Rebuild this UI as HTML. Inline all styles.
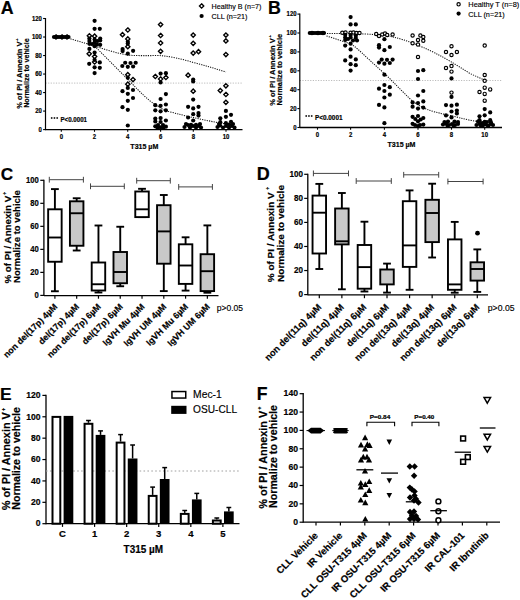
<!DOCTYPE html><html><head><meta charset="utf-8"><style>html,body{margin:0;padding:0;background:#fff;}svg{display:block;}</style></head><body><svg width="520" height="600" viewBox="0 0 520 600" font-family='"Liberation Sans", sans-serif'>
<rect width="520" height="600" fill="#fff"/>
<text font-size="17.8" font-weight="bold" text-anchor="start" fill="#000" transform="translate(0.80 13.65)" stroke="#000" stroke-width="0.2" >A</text>
<line x1="45.50" y1="83.10" x2="243.00" y2="83.10" stroke="#b4b4b4" stroke-width="0.9" stroke-linecap="butt" stroke-dasharray="1.2 1.4"/>
<line x1="45.50" y1="18.00" x2="45.50" y2="130.20" stroke="#000" stroke-width="1.2" stroke-linecap="butt"/>
<line x1="43.10" y1="18.50" x2="45.50" y2="18.50" stroke="#000" stroke-width="1.1" stroke-linecap="butt"/>
<text font-size="6.7" font-weight="bold" text-anchor="end" fill="#000" transform="translate(41.90 20.85) scale(0.8937 1)" stroke="#000" stroke-width="0.2" >120</text>
<line x1="43.10" y1="37.02" x2="45.50" y2="37.02" stroke="#000" stroke-width="1.1" stroke-linecap="butt"/>
<text font-size="6.7" font-weight="bold" text-anchor="end" fill="#000" transform="translate(41.90 39.37) scale(0.8937 1)" stroke="#000" stroke-width="0.2" >100</text>
<line x1="43.10" y1="55.53" x2="45.50" y2="55.53" stroke="#000" stroke-width="1.1" stroke-linecap="butt"/>
<text font-size="6.7" font-weight="bold" text-anchor="end" fill="#000" transform="translate(41.90 57.88) scale(0.8937 1)" stroke="#000" stroke-width="0.2" >80</text>
<line x1="43.10" y1="74.05" x2="45.50" y2="74.05" stroke="#000" stroke-width="1.1" stroke-linecap="butt"/>
<text font-size="6.7" font-weight="bold" text-anchor="end" fill="#000" transform="translate(41.90 76.40) scale(0.8937 1)" stroke="#000" stroke-width="0.2" >60</text>
<line x1="43.10" y1="92.57" x2="45.50" y2="92.57" stroke="#000" stroke-width="1.1" stroke-linecap="butt"/>
<text font-size="6.7" font-weight="bold" text-anchor="end" fill="#000" transform="translate(41.90 94.92) scale(0.8937 1)" stroke="#000" stroke-width="0.2" >40</text>
<line x1="43.10" y1="111.08" x2="45.50" y2="111.08" stroke="#000" stroke-width="1.1" stroke-linecap="butt"/>
<text font-size="6.7" font-weight="bold" text-anchor="end" fill="#000" transform="translate(41.90 113.43) scale(0.8937 1)" stroke="#000" stroke-width="0.2" >20</text>
<line x1="43.10" y1="129.60" x2="45.50" y2="129.60" stroke="#000" stroke-width="1.1" stroke-linecap="butt"/>
<text font-size="6.7" font-weight="bold" text-anchor="end" fill="#000" transform="translate(41.90 131.95) scale(0.8937 1)" stroke="#000" stroke-width="0.2" >0</text>
<line x1="45.50" y1="129.60" x2="242.50" y2="129.60" stroke="#000" stroke-width="1.3" stroke-linecap="butt"/>
<line x1="61.30" y1="129.60" x2="61.30" y2="131.80" stroke="#000" stroke-width="1.1" stroke-linecap="butt"/>
<text font-size="6.7" font-weight="bold" text-anchor="middle" fill="#000" transform="translate(61.30 138.60) scale(0.8937 1)" stroke="#000" stroke-width="0.2" >0</text>
<line x1="94.50" y1="129.60" x2="94.50" y2="131.80" stroke="#000" stroke-width="1.1" stroke-linecap="butt"/>
<text font-size="6.7" font-weight="bold" text-anchor="middle" fill="#000" transform="translate(94.50 138.60) scale(0.8937 1)" stroke="#000" stroke-width="0.2" >2</text>
<line x1="127.70" y1="129.60" x2="127.70" y2="131.80" stroke="#000" stroke-width="1.1" stroke-linecap="butt"/>
<text font-size="6.7" font-weight="bold" text-anchor="middle" fill="#000" transform="translate(127.70 138.60) scale(0.8937 1)" stroke="#000" stroke-width="0.2" >4</text>
<line x1="160.60" y1="129.60" x2="160.60" y2="131.80" stroke="#000" stroke-width="1.1" stroke-linecap="butt"/>
<text font-size="6.7" font-weight="bold" text-anchor="middle" fill="#000" transform="translate(160.60 138.60) scale(0.8937 1)" stroke="#000" stroke-width="0.2" >6</text>
<line x1="193.30" y1="129.60" x2="193.30" y2="131.80" stroke="#000" stroke-width="1.1" stroke-linecap="butt"/>
<text font-size="6.7" font-weight="bold" text-anchor="middle" fill="#000" transform="translate(193.30 138.60) scale(0.8937 1)" stroke="#000" stroke-width="0.2" >8</text>
<line x1="226.00" y1="129.60" x2="226.00" y2="131.80" stroke="#000" stroke-width="1.1" stroke-linecap="butt"/>
<text font-size="6.7" font-weight="bold" text-anchor="middle" fill="#000" transform="translate(226.00 138.60) scale(0.8937 1)" stroke="#000" stroke-width="0.2" >10</text>
<text font-size="7.3" font-weight="bold" text-anchor="middle" fill="#000" transform="translate(21.90 75.10) rotate(-90) scale(1.0214 1)" stroke="#000" stroke-width="0.2" >% of PI / Annexin V</text>
<text font-size="7.3" font-weight="bold" text-anchor="middle" fill="#000" transform="translate(28.80 73.00) rotate(-90) scale(0.9888 1)" stroke="#000" stroke-width="0.2" >Normalize to vehicle</text>
<text font-size="4.2" font-weight="bold" text-anchor="middle" fill="#000" transform="translate(17.90 39.70) rotate(-90)" stroke="#000" stroke-width="0.2" >+</text>
<circle cx="51.70" cy="118.00" r="0.95" fill="#222"/>
<circle cx="54.45" cy="118.00" r="0.95" fill="#222"/>
<circle cx="57.20" cy="118.00" r="0.95" fill="#222"/>
<text font-size="7.0" font-weight="bold" text-anchor="start" fill="#000" transform="translate(60.50 121.70) scale(0.8818 1)" stroke="#000" stroke-width="0.2" >P&lt;0.0001</text>
<text font-size="7.4" font-weight="bold" text-anchor="middle" fill="#000" transform="translate(144.30 149.20) scale(0.9540 1)" stroke="#000" stroke-width="0.2" >T315 µM</text>
<path d="M70.4 38.8 L94.6 46 C105 49.5 118 53.5 127 55 C137 56 148 55.5 160 55.6 C170 56.3 182 59 193 62.4 C205 65.4 215 68.6 226 72" fill="none" stroke="#111" stroke-width="1.05" stroke-dasharray="1.2 1.15"/>
<path d="M94.6 46 L130 81.6 C140 92 148 100 154 103.8 C160 108 164 110 168 111.3 C178 114 186 116 193.5 117.6 L219 123 L226 124" fill="none" stroke="#111" stroke-width="1.05" stroke-dasharray="1.2 1.15"/>
<path d="M89.40 33.65L91.55 35.80L89.40 37.95L87.25 35.80Z" fill="#fff" stroke="#000" stroke-width="1.35"/>
<path d="M94.60 34.05L96.75 36.20L94.60 38.35L92.45 36.20Z" fill="#fff" stroke="#000" stroke-width="1.35"/>
<path d="M89.20 51.65L91.35 53.80L89.20 55.95L87.05 53.80Z" fill="#fff" stroke="#000" stroke-width="1.35"/>
<path d="M94.60 54.35L96.75 56.50L94.60 58.65L92.45 56.50Z" fill="#fff" stroke="#000" stroke-width="1.35"/>
<path d="M94.60 59.85L96.75 62.00L94.60 64.15L92.45 62.00Z" fill="#fff" stroke="#000" stroke-width="1.35"/>
<path d="M127.80 27.85L129.95 30.00L127.80 32.15L125.65 30.00Z" fill="#fff" stroke="#000" stroke-width="1.35"/>
<path d="M122.50 32.55L124.65 34.70L122.50 36.85L120.35 34.70Z" fill="#fff" stroke="#000" stroke-width="1.35"/>
<path d="M127.80 36.75L129.95 38.90L127.80 41.05L125.65 38.90Z" fill="#fff" stroke="#000" stroke-width="1.35"/>
<path d="M127.80 44.55L129.95 46.70L127.80 48.85L125.65 46.70Z" fill="#fff" stroke="#000" stroke-width="1.35"/>
<path d="M127.80 72.55L129.95 74.70L127.80 76.85L125.65 74.70Z" fill="#fff" stroke="#000" stroke-width="1.35"/>
<path d="M133.00 77.45L135.15 79.60L133.00 81.75L130.85 79.60Z" fill="#fff" stroke="#000" stroke-width="1.35"/>
<path d="M127.80 82.05L129.95 84.20L127.80 86.35L125.65 84.20Z" fill="#fff" stroke="#000" stroke-width="1.35"/>
<path d="M160.60 22.45L162.75 24.60L160.60 26.75L158.45 24.60Z" fill="#fff" stroke="#000" stroke-width="1.35"/>
<path d="M160.60 33.35L162.75 35.50L160.60 37.65L158.45 35.50Z" fill="#fff" stroke="#000" stroke-width="1.35"/>
<path d="M160.60 40.85L162.75 43.00L160.60 45.15L158.45 43.00Z" fill="#fff" stroke="#000" stroke-width="1.35"/>
<path d="M160.60 49.15L162.75 51.30L160.60 53.45L158.45 51.30Z" fill="#fff" stroke="#000" stroke-width="1.35"/>
<path d="M155.30 74.35L157.45 76.50L155.30 78.65L153.15 76.50Z" fill="#fff" stroke="#000" stroke-width="1.35"/>
<path d="M160.60 76.85L162.75 79.00L160.60 81.15L158.45 79.00Z" fill="#fff" stroke="#000" stroke-width="1.35"/>
<path d="M165.90 75.35L168.05 77.50L165.90 79.65L163.75 77.50Z" fill="#fff" stroke="#000" stroke-width="1.35"/>
<path d="M193.20 32.95L195.35 35.10L193.20 37.25L191.05 35.10Z" fill="#fff" stroke="#000" stroke-width="1.35"/>
<path d="M193.20 41.15L195.35 43.30L193.20 45.45L191.05 43.30Z" fill="#fff" stroke="#000" stroke-width="1.35"/>
<path d="M193.20 50.95L195.35 53.10L193.20 55.25L191.05 53.10Z" fill="#fff" stroke="#000" stroke-width="1.35"/>
<path d="M198.50 49.55L200.65 51.70L198.50 53.85L196.35 51.70Z" fill="#fff" stroke="#000" stroke-width="1.35"/>
<path d="M188.10 73.05L190.25 75.20L188.10 77.35L185.95 75.20Z" fill="#fff" stroke="#000" stroke-width="1.35"/>
<path d="M193.20 89.05L195.35 91.20L193.20 93.35L191.05 91.20Z" fill="#fff" stroke="#000" stroke-width="1.35"/>
<path d="M225.90 32.95L228.05 35.10L225.90 37.25L223.75 35.10Z" fill="#fff" stroke="#000" stroke-width="1.35"/>
<path d="M225.90 38.75L228.05 40.90L225.90 43.05L223.75 40.90Z" fill="#fff" stroke="#000" stroke-width="1.35"/>
<path d="M225.90 52.45L228.05 54.60L225.90 56.75L223.75 54.60Z" fill="#fff" stroke="#000" stroke-width="1.35"/>
<path d="M225.90 83.65L228.05 85.80L225.90 87.95L223.75 85.80Z" fill="#fff" stroke="#000" stroke-width="1.35"/>
<path d="M220.30 88.45L222.45 90.60L220.30 92.75L218.15 90.60Z" fill="#fff" stroke="#000" stroke-width="1.35"/>
<path d="M225.90 92.35L228.05 94.50L225.90 96.65L223.75 94.50Z" fill="#fff" stroke="#000" stroke-width="1.35"/>
<path d="M225.90 100.15L228.05 102.30L225.90 104.45L223.75 102.30Z" fill="#fff" stroke="#000" stroke-width="1.35"/>
<path d="M56.00 34.85L58.15 37.00L56.00 39.15L53.85 37.00Z" fill="#fff" stroke="#000" stroke-width="1.35"/>
<path d="M62.00 34.85L64.15 37.00L62.00 39.15L59.85 37.00Z" fill="#fff" stroke="#000" stroke-width="1.35"/>
<path d="M67.00 34.85L69.15 37.00L67.00 39.15L64.85 37.00Z" fill="#fff" stroke="#000" stroke-width="1.35"/>
<circle cx="54.00" cy="37.00" r="2.1" fill="#000"/>
<circle cx="56.00" cy="37.00" r="2.1" fill="#000"/>
<circle cx="58.00" cy="37.00" r="2.1" fill="#000"/>
<circle cx="60.00" cy="37.00" r="2.1" fill="#000"/>
<circle cx="62.00" cy="37.00" r="2.1" fill="#000"/>
<circle cx="64.00" cy="37.00" r="2.1" fill="#000"/>
<circle cx="66.00" cy="37.00" r="2.1" fill="#000"/>
<circle cx="68.50" cy="37.00" r="2.1" fill="#000"/>
<circle cx="94.60" cy="20.80" r="2.1" fill="#000"/>
<circle cx="94.60" cy="28.80" r="2.1" fill="#000"/>
<circle cx="99.80" cy="28.80" r="2.1" fill="#000"/>
<circle cx="89.40" cy="38.50" r="2.1" fill="#000"/>
<circle cx="89.40" cy="41.10" r="2.1" fill="#000"/>
<circle cx="89.40" cy="43.80" r="2.1" fill="#000"/>
<circle cx="94.60" cy="39.50" r="2.1" fill="#000"/>
<circle cx="100.20" cy="38.50" r="2.1" fill="#000"/>
<circle cx="100.20" cy="40.50" r="2.1" fill="#000"/>
<circle cx="97.50" cy="41.00" r="2.1" fill="#000"/>
<circle cx="94.60" cy="42.50" r="2.1" fill="#000"/>
<circle cx="100.20" cy="44.80" r="2.1" fill="#000"/>
<circle cx="94.60" cy="46.20" r="2.1" fill="#000"/>
<circle cx="92.00" cy="44.00" r="2.1" fill="#000"/>
<circle cx="97.00" cy="44.50" r="2.1" fill="#000"/>
<circle cx="89.40" cy="48.90" r="2.1" fill="#000"/>
<circle cx="94.60" cy="52.60" r="2.1" fill="#000"/>
<circle cx="94.60" cy="59.80" r="2.1" fill="#000"/>
<circle cx="89.20" cy="63.80" r="2.1" fill="#000"/>
<circle cx="99.80" cy="62.40" r="2.1" fill="#000"/>
<circle cx="94.60" cy="67.30" r="2.1" fill="#000"/>
<circle cx="99.80" cy="67.80" r="2.1" fill="#000"/>
<circle cx="94.60" cy="73.10" r="2.1" fill="#000"/>
<circle cx="127.80" cy="41.80" r="2.1" fill="#000"/>
<circle cx="127.80" cy="43.50" r="2.1" fill="#000"/>
<circle cx="122.60" cy="49.00" r="2.1" fill="#000"/>
<circle cx="122.60" cy="51.10" r="2.1" fill="#000"/>
<circle cx="133.10" cy="50.80" r="2.1" fill="#000"/>
<circle cx="127.80" cy="53.70" r="2.1" fill="#000"/>
<circle cx="125.20" cy="62.75" r="2.1" fill="#000"/>
<circle cx="130.50" cy="63.00" r="2.1" fill="#000"/>
<circle cx="135.70" cy="62.75" r="2.1" fill="#000"/>
<circle cx="122.30" cy="66.00" r="2.1" fill="#000"/>
<circle cx="127.80" cy="66.80" r="2.1" fill="#000"/>
<circle cx="133.10" cy="66.50" r="2.1" fill="#000"/>
<circle cx="127.80" cy="77.80" r="2.1" fill="#000"/>
<circle cx="127.80" cy="87.90" r="2.1" fill="#000"/>
<circle cx="122.50" cy="91.20" r="2.1" fill="#000"/>
<circle cx="133.00" cy="90.00" r="2.1" fill="#000"/>
<circle cx="127.80" cy="93.80" r="2.1" fill="#000"/>
<circle cx="133.00" cy="98.00" r="2.1" fill="#000"/>
<circle cx="127.80" cy="100.80" r="2.1" fill="#000"/>
<circle cx="122.50" cy="107.20" r="2.1" fill="#000"/>
<circle cx="127.80" cy="109.80" r="2.1" fill="#000"/>
<circle cx="127.80" cy="125.50" r="2.1" fill="#000"/>
<circle cx="160.60" cy="73.60" r="2.1" fill="#000"/>
<circle cx="165.90" cy="73.20" r="2.1" fill="#000"/>
<circle cx="160.60" cy="82.40" r="2.1" fill="#000"/>
<circle cx="165.90" cy="94.10" r="2.1" fill="#000"/>
<circle cx="160.60" cy="99.00" r="2.1" fill="#000"/>
<circle cx="155.30" cy="105.20" r="2.1" fill="#000"/>
<circle cx="160.60" cy="105.80" r="2.1" fill="#000"/>
<circle cx="165.90" cy="104.50" r="2.1" fill="#000"/>
<circle cx="155.30" cy="110.30" r="2.1" fill="#000"/>
<circle cx="160.60" cy="111.30" r="2.1" fill="#000"/>
<circle cx="165.90" cy="110.30" r="2.1" fill="#000"/>
<circle cx="155.30" cy="118.50" r="2.1" fill="#000"/>
<circle cx="160.60" cy="118.10" r="2.1" fill="#000"/>
<circle cx="165.90" cy="120.50" r="2.1" fill="#000"/>
<circle cx="155.30" cy="121.40" r="2.1" fill="#000"/>
<circle cx="160.60" cy="122.00" r="2.1" fill="#000"/>
<circle cx="155.30" cy="126.30" r="2.1" fill="#000"/>
<circle cx="160.60" cy="127.30" r="2.1" fill="#000"/>
<circle cx="165.90" cy="126.70" r="2.1" fill="#000"/>
<circle cx="158.00" cy="125.00" r="2.1" fill="#000"/>
<circle cx="163.00" cy="125.00" r="2.1" fill="#000"/>
<circle cx="193.20" cy="79.50" r="2.1" fill="#000"/>
<circle cx="193.20" cy="81.50" r="2.1" fill="#000"/>
<circle cx="193.20" cy="99.60" r="2.1" fill="#000"/>
<circle cx="188.10" cy="106.80" r="2.1" fill="#000"/>
<circle cx="193.20" cy="108.40" r="2.1" fill="#000"/>
<circle cx="198.50" cy="106.80" r="2.1" fill="#000"/>
<circle cx="193.20" cy="114.20" r="2.1" fill="#000"/>
<circle cx="198.50" cy="113.00" r="2.1" fill="#000"/>
<circle cx="198.50" cy="115.60" r="2.1" fill="#000"/>
<circle cx="188.10" cy="117.50" r="2.1" fill="#000"/>
<circle cx="193.20" cy="120.50" r="2.1" fill="#000"/>
<circle cx="184.50" cy="127.00" r="2.1" fill="#000"/>
<circle cx="188.00" cy="125.00" r="2.1" fill="#000"/>
<circle cx="190.00" cy="127.50" r="2.1" fill="#000"/>
<circle cx="193.00" cy="126.00" r="2.1" fill="#000"/>
<circle cx="196.00" cy="127.50" r="2.1" fill="#000"/>
<circle cx="199.00" cy="126.00" r="2.1" fill="#000"/>
<circle cx="201.00" cy="127.50" r="2.1" fill="#000"/>
<circle cx="225.90" cy="110.90" r="2.1" fill="#000"/>
<circle cx="231.00" cy="114.80" r="2.1" fill="#000"/>
<circle cx="225.90" cy="116.80" r="2.1" fill="#000"/>
<circle cx="220.30" cy="118.30" r="2.1" fill="#000"/>
<circle cx="220.30" cy="122.20" r="2.1" fill="#000"/>
<circle cx="225.90" cy="123.20" r="2.1" fill="#000"/>
<circle cx="231.00" cy="121.80" r="2.1" fill="#000"/>
<circle cx="217.50" cy="127.00" r="2.1" fill="#000"/>
<circle cx="220.00" cy="125.50" r="2.1" fill="#000"/>
<circle cx="223.00" cy="127.50" r="2.1" fill="#000"/>
<circle cx="226.00" cy="126.00" r="2.1" fill="#000"/>
<circle cx="229.00" cy="127.50" r="2.1" fill="#000"/>
<circle cx="232.00" cy="126.00" r="2.1" fill="#000"/>
<circle cx="234.50" cy="127.50" r="2.1" fill="#000"/>
<circle cx="186.00" cy="124.00" r="2.1" fill="#000"/>
<circle cx="191.00" cy="124.80" r="2.1" fill="#000"/>
<circle cx="196.00" cy="124.80" r="2.1" fill="#000"/>
<circle cx="200.00" cy="124.00" r="2.1" fill="#000"/>
<circle cx="219.00" cy="124.00" r="2.1" fill="#000"/>
<circle cx="229.00" cy="124.50" r="2.1" fill="#000"/>
<circle cx="233.00" cy="124.00" r="2.1" fill="#000"/>
<circle cx="157.50" cy="127.50" r="2.1" fill="#000"/>
<circle cx="163.50" cy="127.50" r="2.1" fill="#000"/>
<path d="M201.60 3.85L203.75 6.00L201.60 8.15L199.45 6.00Z" fill="#fff" stroke="#000" stroke-width="1.35"/>
<circle cx="201.60" cy="16.00" r="2.1" fill="#000"/>
<text font-size="7.8" font-weight="normal" text-anchor="start" fill="#000" transform="translate(211.50 8.80) scale(0.9190 1)" stroke="#000" stroke-width="0.15" >Healthy B (n=7)</text>
<text font-size="7.8" font-weight="normal" text-anchor="start" fill="#000" transform="translate(211.50 18.80) scale(0.9242 1)" stroke="#000" stroke-width="0.15" >CLL (n=21)</text>
<text font-size="17.8" font-weight="bold" text-anchor="start" fill="#000" transform="translate(268.10 13.70)" stroke="#000" stroke-width="0.2" >B</text>
<line x1="299.80" y1="80.50" x2="502.00" y2="80.50" stroke="#b4b4b4" stroke-width="0.9" stroke-linecap="butt" stroke-dasharray="1.2 1.4"/>
<line x1="299.80" y1="13.60" x2="299.80" y2="128.10" stroke="#000" stroke-width="1.2" stroke-linecap="butt"/>
<line x1="297.40" y1="14.10" x2="299.80" y2="14.10" stroke="#000" stroke-width="1.1" stroke-linecap="butt"/>
<text font-size="6.7" font-weight="bold" text-anchor="end" fill="#000" transform="translate(296.60 16.45) scale(0.8937 1)" stroke="#000" stroke-width="0.2" >120</text>
<line x1="297.40" y1="33.00" x2="299.80" y2="33.00" stroke="#000" stroke-width="1.1" stroke-linecap="butt"/>
<text font-size="6.7" font-weight="bold" text-anchor="end" fill="#000" transform="translate(296.60 35.35) scale(0.8937 1)" stroke="#000" stroke-width="0.2" >100</text>
<line x1="297.40" y1="51.90" x2="299.80" y2="51.90" stroke="#000" stroke-width="1.1" stroke-linecap="butt"/>
<text font-size="6.7" font-weight="bold" text-anchor="end" fill="#000" transform="translate(296.60 54.25) scale(0.8937 1)" stroke="#000" stroke-width="0.2" >80</text>
<line x1="297.40" y1="70.80" x2="299.80" y2="70.80" stroke="#000" stroke-width="1.1" stroke-linecap="butt"/>
<text font-size="6.7" font-weight="bold" text-anchor="end" fill="#000" transform="translate(296.60 73.15) scale(0.8937 1)" stroke="#000" stroke-width="0.2" >60</text>
<line x1="297.40" y1="89.70" x2="299.80" y2="89.70" stroke="#000" stroke-width="1.1" stroke-linecap="butt"/>
<text font-size="6.7" font-weight="bold" text-anchor="end" fill="#000" transform="translate(296.60 92.05) scale(0.8937 1)" stroke="#000" stroke-width="0.2" >40</text>
<line x1="297.40" y1="108.60" x2="299.80" y2="108.60" stroke="#000" stroke-width="1.1" stroke-linecap="butt"/>
<text font-size="6.7" font-weight="bold" text-anchor="end" fill="#000" transform="translate(296.60 110.95) scale(0.8937 1)" stroke="#000" stroke-width="0.2" >20</text>
<line x1="297.40" y1="127.50" x2="299.80" y2="127.50" stroke="#000" stroke-width="1.1" stroke-linecap="butt"/>
<text font-size="6.7" font-weight="bold" text-anchor="end" fill="#000" transform="translate(296.60 129.85) scale(0.8937 1)" stroke="#000" stroke-width="0.2" >0</text>
<line x1="299.80" y1="127.50" x2="502.00" y2="127.50" stroke="#000" stroke-width="1.3" stroke-linecap="butt"/>
<line x1="317.50" y1="127.50" x2="317.50" y2="129.70" stroke="#000" stroke-width="1.1" stroke-linecap="butt"/>
<text font-size="6.7" font-weight="bold" text-anchor="middle" fill="#000" transform="translate(317.50 136.50) scale(0.8937 1)" stroke="#000" stroke-width="0.2" >0</text>
<line x1="350.60" y1="127.50" x2="350.60" y2="129.70" stroke="#000" stroke-width="1.1" stroke-linecap="butt"/>
<text font-size="6.7" font-weight="bold" text-anchor="middle" fill="#000" transform="translate(350.60 136.50) scale(0.8937 1)" stroke="#000" stroke-width="0.2" >2</text>
<line x1="384.40" y1="127.50" x2="384.40" y2="129.70" stroke="#000" stroke-width="1.1" stroke-linecap="butt"/>
<text font-size="6.7" font-weight="bold" text-anchor="middle" fill="#000" transform="translate(384.40 136.50) scale(0.8937 1)" stroke="#000" stroke-width="0.2" >4</text>
<line x1="418.00" y1="127.50" x2="418.00" y2="129.70" stroke="#000" stroke-width="1.1" stroke-linecap="butt"/>
<text font-size="6.7" font-weight="bold" text-anchor="middle" fill="#000" transform="translate(418.00 136.50) scale(0.8937 1)" stroke="#000" stroke-width="0.2" >6</text>
<line x1="451.50" y1="127.50" x2="451.50" y2="129.70" stroke="#000" stroke-width="1.1" stroke-linecap="butt"/>
<text font-size="6.7" font-weight="bold" text-anchor="middle" fill="#000" transform="translate(451.50 136.50) scale(0.8937 1)" stroke="#000" stroke-width="0.2" >8</text>
<line x1="484.70" y1="127.50" x2="484.70" y2="129.70" stroke="#000" stroke-width="1.1" stroke-linecap="butt"/>
<text font-size="6.7" font-weight="bold" text-anchor="middle" fill="#000" transform="translate(484.70 136.50) scale(0.8937 1)" stroke="#000" stroke-width="0.2" >10</text>
<text font-size="7.3" font-weight="bold" text-anchor="middle" fill="#000" transform="translate(275.30 72.05) rotate(-90) scale(1.0282 1)" stroke="#000" stroke-width="0.2" >% of PI / Annexin V</text>
<text font-size="7.3" font-weight="bold" text-anchor="middle" fill="#000" transform="translate(282.40 69.70) rotate(-90) scale(1.0143 1)" stroke="#000" stroke-width="0.2" >Normalize to vehicle</text>
<text font-size="4.2" font-weight="bold" text-anchor="middle" fill="#000" transform="translate(271.20 36.20) rotate(-90)" stroke="#000" stroke-width="0.2" >+</text>
<circle cx="306.20" cy="116.00" r="0.95" fill="#222"/>
<circle cx="308.95" cy="116.00" r="0.95" fill="#222"/>
<circle cx="311.70" cy="116.00" r="0.95" fill="#222"/>
<text font-size="7.0" font-weight="bold" text-anchor="start" fill="#000" transform="translate(315.00 119.80) scale(0.9149 1)" stroke="#000" stroke-width="0.2" >P&lt;0.0001</text>
<text font-size="7.4" font-weight="bold" text-anchor="middle" fill="#000" transform="translate(401.50 147.10) scale(0.9540 1)" stroke="#000" stroke-width="0.2" >T315 µM</text>
<path d="M327 33.4 L350 33.4 C370 34 385 35 395 37.4 C405 40 418 44.5 435 53 C445 58 455 64 470 73.5 L484.7 80.3" fill="none" stroke="#111" stroke-width="1.05" stroke-dasharray="1.2 1.15"/>
<path d="M326.5 35.9 L350.8 43.9 C355 46.5 360 51 367.6 58.3 L388.5 77.3 C396 85 402 91 412 100.8 C418 105 423 108.6 435 112 C445 114.5 455 116.5 470 120.3 L484.7 122.5" fill="none" stroke="#111" stroke-width="1.05" stroke-dasharray="1.2 1.15"/>
<circle cx="342.30" cy="32.70" r="1.65" fill="#fff" stroke="#000" stroke-width="1.15"/>
<circle cx="345.50" cy="32.50" r="1.65" fill="#fff" stroke="#000" stroke-width="1.15"/>
<circle cx="350.60" cy="32.70" r="1.65" fill="#fff" stroke="#000" stroke-width="1.15"/>
<circle cx="353.50" cy="32.50" r="1.65" fill="#fff" stroke="#000" stroke-width="1.15"/>
<circle cx="356.50" cy="33.00" r="1.65" fill="#fff" stroke="#000" stroke-width="1.15"/>
<circle cx="359.50" cy="33.00" r="1.65" fill="#fff" stroke="#000" stroke-width="1.15"/>
<circle cx="376.20" cy="34.00" r="1.65" fill="#fff" stroke="#000" stroke-width="1.15"/>
<circle cx="379.00" cy="36.00" r="1.65" fill="#fff" stroke="#000" stroke-width="1.15"/>
<circle cx="382.20" cy="34.50" r="1.65" fill="#fff" stroke="#000" stroke-width="1.15"/>
<circle cx="385.00" cy="33.50" r="1.65" fill="#fff" stroke="#000" stroke-width="1.15"/>
<circle cx="387.20" cy="35.00" r="1.65" fill="#fff" stroke="#000" stroke-width="1.15"/>
<circle cx="392.60" cy="34.50" r="1.65" fill="#fff" stroke="#000" stroke-width="1.15"/>
<circle cx="412.60" cy="35.50" r="1.65" fill="#fff" stroke="#000" stroke-width="1.15"/>
<circle cx="420.40" cy="35.50" r="1.65" fill="#fff" stroke="#000" stroke-width="1.15"/>
<circle cx="423.30" cy="37.00" r="1.65" fill="#fff" stroke="#000" stroke-width="1.15"/>
<circle cx="418.00" cy="40.00" r="1.65" fill="#fff" stroke="#000" stroke-width="1.15"/>
<circle cx="423.30" cy="40.70" r="1.65" fill="#fff" stroke="#000" stroke-width="1.15"/>
<circle cx="412.60" cy="43.30" r="1.65" fill="#fff" stroke="#000" stroke-width="1.15"/>
<circle cx="418.00" cy="44.60" r="1.65" fill="#fff" stroke="#000" stroke-width="1.15"/>
<circle cx="418.00" cy="57.00" r="1.65" fill="#fff" stroke="#000" stroke-width="1.15"/>
<circle cx="451.50" cy="46.20" r="1.65" fill="#fff" stroke="#000" stroke-width="1.15"/>
<circle cx="446.00" cy="52.00" r="1.65" fill="#fff" stroke="#000" stroke-width="1.15"/>
<circle cx="456.90" cy="52.00" r="1.65" fill="#fff" stroke="#000" stroke-width="1.15"/>
<circle cx="451.50" cy="55.00" r="1.65" fill="#fff" stroke="#000" stroke-width="1.15"/>
<circle cx="451.50" cy="66.10" r="1.65" fill="#fff" stroke="#000" stroke-width="1.15"/>
<circle cx="446.00" cy="68.00" r="1.65" fill="#fff" stroke="#000" stroke-width="1.15"/>
<circle cx="451.50" cy="71.60" r="1.65" fill="#fff" stroke="#000" stroke-width="1.15"/>
<circle cx="451.50" cy="92.60" r="1.65" fill="#fff" stroke="#000" stroke-width="1.15"/>
<circle cx="484.70" cy="45.60" r="1.65" fill="#fff" stroke="#000" stroke-width="1.15"/>
<circle cx="484.70" cy="75.00" r="1.65" fill="#fff" stroke="#000" stroke-width="1.15"/>
<circle cx="484.70" cy="80.80" r="1.65" fill="#fff" stroke="#000" stroke-width="1.15"/>
<circle cx="484.70" cy="87.70" r="1.65" fill="#fff" stroke="#000" stroke-width="1.15"/>
<circle cx="479.50" cy="92.00" r="1.65" fill="#fff" stroke="#000" stroke-width="1.15"/>
<circle cx="490.20" cy="89.40" r="1.65" fill="#fff" stroke="#000" stroke-width="1.15"/>
<circle cx="484.70" cy="93.90" r="1.65" fill="#fff" stroke="#000" stroke-width="1.15"/>
<circle cx="484.70" cy="100.70" r="1.65" fill="#fff" stroke="#000" stroke-width="1.15"/>
<circle cx="312.00" cy="33.00" r="1.65" fill="#fff" stroke="#000" stroke-width="1.15"/>
<circle cx="318.00" cy="33.00" r="1.65" fill="#fff" stroke="#000" stroke-width="1.15"/>
<circle cx="323.00" cy="33.00" r="1.65" fill="#fff" stroke="#000" stroke-width="1.15"/>
<circle cx="309.80" cy="33.00" r="2.1" fill="#000"/>
<circle cx="312.00" cy="33.00" r="2.1" fill="#000"/>
<circle cx="314.00" cy="33.00" r="2.1" fill="#000"/>
<circle cx="316.00" cy="33.00" r="2.1" fill="#000"/>
<circle cx="318.00" cy="33.00" r="2.1" fill="#000"/>
<circle cx="320.00" cy="33.00" r="2.1" fill="#000"/>
<circle cx="322.00" cy="33.00" r="2.1" fill="#000"/>
<circle cx="324.00" cy="33.00" r="2.1" fill="#000"/>
<circle cx="350.60" cy="17.10" r="2.1" fill="#000"/>
<circle cx="350.60" cy="24.40" r="2.1" fill="#000"/>
<circle cx="355.80" cy="24.40" r="2.1" fill="#000"/>
<circle cx="345.20" cy="34.80" r="2.1" fill="#000"/>
<circle cx="350.60" cy="35.00" r="2.1" fill="#000"/>
<circle cx="355.80" cy="35.50" r="2.1" fill="#000"/>
<circle cx="345.20" cy="37.50" r="2.1" fill="#000"/>
<circle cx="350.60" cy="37.50" r="2.1" fill="#000"/>
<circle cx="355.80" cy="38.00" r="2.1" fill="#000"/>
<circle cx="345.20" cy="40.00" r="2.1" fill="#000"/>
<circle cx="353.00" cy="40.50" r="2.1" fill="#000"/>
<circle cx="357.00" cy="40.50" r="2.1" fill="#000"/>
<circle cx="348.00" cy="39.00" r="2.1" fill="#000"/>
<circle cx="345.20" cy="45.60" r="2.1" fill="#000"/>
<circle cx="350.60" cy="43.70" r="2.1" fill="#000"/>
<circle cx="350.60" cy="49.40" r="2.1" fill="#000"/>
<circle cx="350.60" cy="56.70" r="2.1" fill="#000"/>
<circle cx="345.20" cy="60.40" r="2.1" fill="#000"/>
<circle cx="355.80" cy="59.40" r="2.1" fill="#000"/>
<circle cx="350.60" cy="64.20" r="2.1" fill="#000"/>
<circle cx="355.80" cy="65.20" r="2.1" fill="#000"/>
<circle cx="350.60" cy="70.60" r="2.1" fill="#000"/>
<circle cx="384.40" cy="39.20" r="2.1" fill="#000"/>
<circle cx="379.00" cy="45.20" r="2.1" fill="#000"/>
<circle cx="379.00" cy="47.60" r="2.1" fill="#000"/>
<circle cx="389.80" cy="47.00" r="2.1" fill="#000"/>
<circle cx="384.40" cy="50.20" r="2.1" fill="#000"/>
<circle cx="381.70" cy="59.60" r="2.1" fill="#000"/>
<circle cx="387.00" cy="59.80" r="2.1" fill="#000"/>
<circle cx="392.60" cy="59.60" r="2.1" fill="#000"/>
<circle cx="379.00" cy="62.60" r="2.1" fill="#000"/>
<circle cx="384.40" cy="63.70" r="2.1" fill="#000"/>
<circle cx="389.80" cy="63.00" r="2.1" fill="#000"/>
<circle cx="384.40" cy="74.70" r="2.1" fill="#000"/>
<circle cx="384.40" cy="85.00" r="2.1" fill="#000"/>
<circle cx="379.00" cy="88.70" r="2.1" fill="#000"/>
<circle cx="389.80" cy="87.20" r="2.1" fill="#000"/>
<circle cx="384.40" cy="91.00" r="2.1" fill="#000"/>
<circle cx="389.80" cy="94.70" r="2.1" fill="#000"/>
<circle cx="384.40" cy="97.50" r="2.1" fill="#000"/>
<circle cx="379.00" cy="104.90" r="2.1" fill="#000"/>
<circle cx="384.40" cy="107.40" r="2.1" fill="#000"/>
<circle cx="384.40" cy="123.20" r="2.1" fill="#000"/>
<circle cx="418.00" cy="71.00" r="2.1" fill="#000"/>
<circle cx="423.30" cy="70.20" r="2.1" fill="#000"/>
<circle cx="418.00" cy="79.00" r="2.1" fill="#000"/>
<circle cx="423.30" cy="91.00" r="2.1" fill="#000"/>
<circle cx="418.00" cy="95.50" r="2.1" fill="#000"/>
<circle cx="412.60" cy="102.40" r="2.1" fill="#000"/>
<circle cx="418.00" cy="103.10" r="2.1" fill="#000"/>
<circle cx="423.30" cy="101.40" r="2.1" fill="#000"/>
<circle cx="412.60" cy="106.70" r="2.1" fill="#000"/>
<circle cx="418.00" cy="108.60" r="2.1" fill="#000"/>
<circle cx="423.30" cy="107.60" r="2.1" fill="#000"/>
<circle cx="412.60" cy="116.80" r="2.1" fill="#000"/>
<circle cx="418.00" cy="116.00" r="2.1" fill="#000"/>
<circle cx="423.30" cy="118.00" r="2.1" fill="#000"/>
<circle cx="412.60" cy="123.80" r="2.1" fill="#000"/>
<circle cx="418.00" cy="121.30" r="2.1" fill="#000"/>
<circle cx="423.30" cy="124.60" r="2.1" fill="#000"/>
<circle cx="415.00" cy="125.00" r="2.1" fill="#000"/>
<circle cx="420.00" cy="125.00" r="2.1" fill="#000"/>
<circle cx="451.50" cy="78.40" r="2.1" fill="#000"/>
<circle cx="451.50" cy="96.90" r="2.1" fill="#000"/>
<circle cx="446.00" cy="105.10" r="2.1" fill="#000"/>
<circle cx="451.50" cy="105.70" r="2.1" fill="#000"/>
<circle cx="456.90" cy="104.70" r="2.1" fill="#000"/>
<circle cx="451.50" cy="111.50" r="2.1" fill="#000"/>
<circle cx="456.90" cy="110.60" r="2.1" fill="#000"/>
<circle cx="456.90" cy="113.50" r="2.1" fill="#000"/>
<circle cx="446.00" cy="115.40" r="2.1" fill="#000"/>
<circle cx="451.50" cy="117.40" r="2.1" fill="#000"/>
<circle cx="443.00" cy="124.50" r="2.1" fill="#000"/>
<circle cx="446.00" cy="123.50" r="2.1" fill="#000"/>
<circle cx="449.00" cy="125.00" r="2.1" fill="#000"/>
<circle cx="452.00" cy="124.00" r="2.1" fill="#000"/>
<circle cx="455.00" cy="125.00" r="2.1" fill="#000"/>
<circle cx="458.00" cy="124.00" r="2.1" fill="#000"/>
<circle cx="484.70" cy="109.10" r="2.1" fill="#000"/>
<circle cx="490.20" cy="112.40" r="2.1" fill="#000"/>
<circle cx="484.70" cy="115.30" r="2.1" fill="#000"/>
<circle cx="479.50" cy="116.30" r="2.1" fill="#000"/>
<circle cx="479.50" cy="120.20" r="2.1" fill="#000"/>
<circle cx="490.20" cy="120.20" r="2.1" fill="#000"/>
<circle cx="484.70" cy="121.80" r="2.1" fill="#000"/>
<circle cx="476.50" cy="125.00" r="2.1" fill="#000"/>
<circle cx="479.50" cy="124.00" r="2.1" fill="#000"/>
<circle cx="482.50" cy="125.50" r="2.1" fill="#000"/>
<circle cx="485.50" cy="124.00" r="2.1" fill="#000"/>
<circle cx="488.50" cy="125.50" r="2.1" fill="#000"/>
<circle cx="491.00" cy="124.00" r="2.1" fill="#000"/>
<circle cx="493.00" cy="125.00" r="2.1" fill="#000"/>
<circle cx="415.30" cy="119.00" r="2.1" fill="#000"/>
<circle cx="420.70" cy="119.50" r="2.1" fill="#000"/>
<circle cx="418.00" cy="126.00" r="2.1" fill="#000"/>
<circle cx="444.50" cy="122.00" r="2.1" fill="#000"/>
<circle cx="448.00" cy="121.50" r="2.1" fill="#000"/>
<circle cx="454.50" cy="121.50" r="2.1" fill="#000"/>
<circle cx="458.00" cy="122.00" r="2.1" fill="#000"/>
<circle cx="447.50" cy="125.50" r="2.1" fill="#000"/>
<circle cx="453.50" cy="125.50" r="2.1" fill="#000"/>
<circle cx="478.00" cy="121.50" r="2.1" fill="#000"/>
<circle cx="482.00" cy="123.00" r="2.1" fill="#000"/>
<circle cx="487.00" cy="122.00" r="2.1" fill="#000"/>
<circle cx="491.00" cy="122.50" r="2.1" fill="#000"/>
<circle cx="481.00" cy="126.00" r="2.1" fill="#000"/>
<circle cx="488.00" cy="126.00" r="2.1" fill="#000"/>
<circle cx="484.70" cy="124.50" r="2.1" fill="#000"/>
<circle cx="458.60" cy="4.30" r="1.65" fill="#fff" stroke="#000" stroke-width="1.15"/>
<circle cx="458.60" cy="13.60" r="2.1" fill="#000"/>
<text font-size="7.8" font-weight="normal" text-anchor="start" fill="#000" transform="translate(468.30 7.30) scale(0.9499 1)" stroke="#000" stroke-width="0.15" >Healthy T (n=8)</text>
<text font-size="7.8" font-weight="normal" text-anchor="start" fill="#000" transform="translate(468.30 16.60) scale(0.9371 1)" stroke="#000" stroke-width="0.15" >CLL (n=21)</text>
<text font-size="17.2" font-weight="bold" text-anchor="start" fill="#000" transform="translate(0.70 179.90)" stroke="#000" stroke-width="0.2" >C</text>
<line x1="43.90" y1="179.70" x2="43.90" y2="296.00" stroke="#000" stroke-width="1.3" stroke-linecap="butt"/>
<line x1="40.30" y1="180.30" x2="43.90" y2="180.30" stroke="#000" stroke-width="1.2" stroke-linecap="butt"/>
<text font-size="9.2" font-weight="bold" text-anchor="end" fill="#000" transform="translate(38.80 183.02) scale(0.8345 1)" stroke="#000" stroke-width="0.2" >100</text>
<line x1="40.30" y1="203.32" x2="43.90" y2="203.32" stroke="#000" stroke-width="1.2" stroke-linecap="butt"/>
<text font-size="9.2" font-weight="bold" text-anchor="end" fill="#000" transform="translate(38.80 206.04) scale(0.8345 1)" stroke="#000" stroke-width="0.2" >80</text>
<line x1="40.30" y1="226.34" x2="43.90" y2="226.34" stroke="#000" stroke-width="1.2" stroke-linecap="butt"/>
<text font-size="9.2" font-weight="bold" text-anchor="end" fill="#000" transform="translate(38.80 229.06) scale(0.8345 1)" stroke="#000" stroke-width="0.2" >60</text>
<line x1="40.30" y1="249.36" x2="43.90" y2="249.36" stroke="#000" stroke-width="1.2" stroke-linecap="butt"/>
<text font-size="9.2" font-weight="bold" text-anchor="end" fill="#000" transform="translate(38.80 252.08) scale(0.8345 1)" stroke="#000" stroke-width="0.2" >40</text>
<line x1="40.30" y1="272.38" x2="43.90" y2="272.38" stroke="#000" stroke-width="1.2" stroke-linecap="butt"/>
<text font-size="9.2" font-weight="bold" text-anchor="end" fill="#000" transform="translate(38.80 275.10) scale(0.8345 1)" stroke="#000" stroke-width="0.2" >20</text>
<line x1="40.30" y1="295.40" x2="43.90" y2="295.40" stroke="#000" stroke-width="1.2" stroke-linecap="butt"/>
<text font-size="9.2" font-weight="bold" text-anchor="end" fill="#000" transform="translate(38.80 298.12) scale(0.8345 1)" stroke="#000" stroke-width="0.2" >0</text>
<line x1="43.90" y1="295.60" x2="218.50" y2="295.60" stroke="#000" stroke-width="1.3" stroke-linecap="butt"/>
<line x1="54.90" y1="295.60" x2="54.90" y2="298.70" stroke="#000" stroke-width="1.2" stroke-linecap="butt"/>
<line x1="76.68" y1="295.60" x2="76.68" y2="298.70" stroke="#000" stroke-width="1.2" stroke-linecap="butt"/>
<line x1="98.46" y1="295.60" x2="98.46" y2="298.70" stroke="#000" stroke-width="1.2" stroke-linecap="butt"/>
<line x1="120.24" y1="295.60" x2="120.24" y2="298.70" stroke="#000" stroke-width="1.2" stroke-linecap="butt"/>
<line x1="142.02" y1="295.60" x2="142.02" y2="298.70" stroke="#000" stroke-width="1.2" stroke-linecap="butt"/>
<line x1="163.80" y1="295.60" x2="163.80" y2="298.70" stroke="#000" stroke-width="1.2" stroke-linecap="butt"/>
<line x1="185.58" y1="295.60" x2="185.58" y2="298.70" stroke="#000" stroke-width="1.2" stroke-linecap="butt"/>
<line x1="207.36" y1="295.60" x2="207.36" y2="298.70" stroke="#000" stroke-width="1.2" stroke-linecap="butt"/>
<text font-size="9.5" font-weight="bold" text-anchor="middle" fill="#000" transform="translate(11.20 239.70) rotate(-90) scale(1.0270 1)" stroke="#000" stroke-width="0.2" >% of PI / Annexin V</text>
<text font-size="9.5" font-weight="bold" text-anchor="middle" fill="#000" transform="translate(20.30 236.50) rotate(-90) scale(1.0124 1)" stroke="#000" stroke-width="0.2" >Normalize to vehicle</text>
<text font-size="5.0" font-weight="bold" text-anchor="middle" fill="#000" transform="translate(6.30 193.20) rotate(-90)" stroke="#000" stroke-width="0.2" >+</text>
<line x1="54.90" y1="189.10" x2="54.90" y2="209.30" stroke="#000" stroke-width="1.9" stroke-linecap="butt"/>
<line x1="54.90" y1="261.75" x2="54.90" y2="291.25" stroke="#000" stroke-width="1.9" stroke-linecap="butt"/>
<line x1="51.00" y1="189.10" x2="58.80" y2="189.10" stroke="#000" stroke-width="1.9" stroke-linecap="butt"/>
<line x1="51.00" y1="291.25" x2="58.80" y2="291.25" stroke="#000" stroke-width="1.9" stroke-linecap="butt"/>
<rect x="48.15" y="209.30" width="13.50" height="52.45" fill="#fff" stroke="#000" stroke-width="1.9"/>
<line x1="48.15" y1="237.50" x2="61.65" y2="237.50" stroke="#000" stroke-width="1.9" stroke-linecap="butt"/>
<line x1="76.68" y1="198.25" x2="76.68" y2="201.30" stroke="#000" stroke-width="1.9" stroke-linecap="butt"/>
<line x1="76.68" y1="245.75" x2="76.68" y2="250.50" stroke="#000" stroke-width="1.9" stroke-linecap="butt"/>
<line x1="72.78" y1="198.25" x2="80.58" y2="198.25" stroke="#000" stroke-width="1.9" stroke-linecap="butt"/>
<line x1="72.78" y1="250.50" x2="80.58" y2="250.50" stroke="#000" stroke-width="1.9" stroke-linecap="butt"/>
<rect x="69.93" y="201.30" width="13.50" height="44.45" fill="#c8c8c8" stroke="#000" stroke-width="1.9"/>
<line x1="69.93" y1="213.25" x2="83.43" y2="213.25" stroke="#000" stroke-width="1.9" stroke-linecap="butt"/>
<line x1="98.46" y1="225.50" x2="98.46" y2="262.50" stroke="#000" stroke-width="1.9" stroke-linecap="butt"/>
<line x1="98.46" y1="290.50" x2="98.46" y2="292.50" stroke="#000" stroke-width="1.9" stroke-linecap="butt"/>
<line x1="94.56" y1="225.50" x2="102.36" y2="225.50" stroke="#000" stroke-width="1.9" stroke-linecap="butt"/>
<line x1="94.56" y1="292.50" x2="102.36" y2="292.50" stroke="#000" stroke-width="1.9" stroke-linecap="butt"/>
<rect x="91.71" y="262.50" width="13.50" height="28.00" fill="#fff" stroke="#000" stroke-width="1.9"/>
<line x1="91.71" y1="284.25" x2="105.21" y2="284.25" stroke="#000" stroke-width="1.9" stroke-linecap="butt"/>
<line x1="120.24" y1="226.75" x2="120.24" y2="252.00" stroke="#000" stroke-width="1.9" stroke-linecap="butt"/>
<line x1="120.24" y1="283.25" x2="120.24" y2="286.25" stroke="#000" stroke-width="1.9" stroke-linecap="butt"/>
<line x1="116.34" y1="226.75" x2="124.14" y2="226.75" stroke="#000" stroke-width="1.9" stroke-linecap="butt"/>
<line x1="116.34" y1="286.25" x2="124.14" y2="286.25" stroke="#000" stroke-width="1.9" stroke-linecap="butt"/>
<rect x="113.49" y="252.00" width="13.50" height="31.25" fill="#c8c8c8" stroke="#000" stroke-width="1.9"/>
<line x1="113.49" y1="272.00" x2="126.99" y2="272.00" stroke="#000" stroke-width="1.9" stroke-linecap="butt"/>
<line x1="142.02" y1="188.80" x2="142.02" y2="191.50" stroke="#000" stroke-width="1.9" stroke-linecap="butt"/>
<line x1="142.02" y1="217.10" x2="142.02" y2="217.10" stroke="#000" stroke-width="1.9" stroke-linecap="butt"/>
<line x1="138.12" y1="188.80" x2="145.92" y2="188.80" stroke="#000" stroke-width="1.9" stroke-linecap="butt"/>
<line x1="138.12" y1="217.10" x2="145.92" y2="217.10" stroke="#000" stroke-width="1.9" stroke-linecap="butt"/>
<rect x="135.27" y="191.50" width="13.50" height="25.60" fill="#fff" stroke="#000" stroke-width="1.9"/>
<line x1="135.27" y1="209.30" x2="148.77" y2="209.30" stroke="#000" stroke-width="1.9" stroke-linecap="butt"/>
<line x1="163.80" y1="195.00" x2="163.80" y2="205.20" stroke="#000" stroke-width="1.9" stroke-linecap="butt"/>
<line x1="163.80" y1="263.70" x2="163.80" y2="291.10" stroke="#000" stroke-width="1.9" stroke-linecap="butt"/>
<line x1="159.90" y1="195.00" x2="167.70" y2="195.00" stroke="#000" stroke-width="1.9" stroke-linecap="butt"/>
<line x1="159.90" y1="291.10" x2="167.70" y2="291.10" stroke="#000" stroke-width="1.9" stroke-linecap="butt"/>
<rect x="157.05" y="205.20" width="13.50" height="58.50" fill="#c8c8c8" stroke="#000" stroke-width="1.9"/>
<line x1="157.05" y1="231.40" x2="170.55" y2="231.40" stroke="#000" stroke-width="1.9" stroke-linecap="butt"/>
<line x1="185.58" y1="237.30" x2="185.58" y2="244.30" stroke="#000" stroke-width="1.9" stroke-linecap="butt"/>
<line x1="185.58" y1="283.90" x2="185.58" y2="290.60" stroke="#000" stroke-width="1.9" stroke-linecap="butt"/>
<line x1="181.68" y1="237.30" x2="189.48" y2="237.30" stroke="#000" stroke-width="1.9" stroke-linecap="butt"/>
<line x1="181.68" y1="290.60" x2="189.48" y2="290.60" stroke="#000" stroke-width="1.9" stroke-linecap="butt"/>
<rect x="178.83" y="244.30" width="13.50" height="39.60" fill="#fff" stroke="#000" stroke-width="1.9"/>
<line x1="178.83" y1="265.50" x2="192.33" y2="265.50" stroke="#000" stroke-width="1.9" stroke-linecap="butt"/>
<line x1="207.36" y1="225.40" x2="207.36" y2="254.20" stroke="#000" stroke-width="1.9" stroke-linecap="butt"/>
<line x1="207.36" y1="291.10" x2="207.36" y2="292.70" stroke="#000" stroke-width="1.9" stroke-linecap="butt"/>
<line x1="203.46" y1="225.40" x2="211.26" y2="225.40" stroke="#000" stroke-width="1.9" stroke-linecap="butt"/>
<line x1="203.46" y1="292.70" x2="211.26" y2="292.70" stroke="#000" stroke-width="1.9" stroke-linecap="butt"/>
<rect x="200.61" y="254.20" width="13.50" height="36.90" fill="#c8c8c8" stroke="#000" stroke-width="1.9"/>
<line x1="200.61" y1="271.20" x2="214.11" y2="271.20" stroke="#000" stroke-width="1.9" stroke-linecap="butt"/>
<line x1="49.30" y1="179.70" x2="83.40" y2="179.70" stroke="#444" stroke-width="1.0" stroke-linecap="butt"/>
<line x1="49.30" y1="176.80" x2="49.30" y2="182.60" stroke="#444" stroke-width="1.0" stroke-linecap="butt"/>
<line x1="83.40" y1="176.80" x2="83.40" y2="182.60" stroke="#444" stroke-width="1.0" stroke-linecap="butt"/>
<line x1="90.50" y1="186.30" x2="124.30" y2="186.30" stroke="#444" stroke-width="1.0" stroke-linecap="butt"/>
<line x1="90.50" y1="183.40" x2="90.50" y2="189.20" stroke="#444" stroke-width="1.0" stroke-linecap="butt"/>
<line x1="124.30" y1="183.40" x2="124.30" y2="189.20" stroke="#444" stroke-width="1.0" stroke-linecap="butt"/>
<line x1="136.70" y1="180.70" x2="170.30" y2="180.70" stroke="#444" stroke-width="1.0" stroke-linecap="butt"/>
<line x1="136.70" y1="177.80" x2="136.70" y2="183.60" stroke="#444" stroke-width="1.0" stroke-linecap="butt"/>
<line x1="170.30" y1="177.80" x2="170.30" y2="183.60" stroke="#444" stroke-width="1.0" stroke-linecap="butt"/>
<line x1="178.70" y1="186.90" x2="212.40" y2="186.90" stroke="#444" stroke-width="1.0" stroke-linecap="butt"/>
<line x1="178.70" y1="184.00" x2="178.70" y2="189.80" stroke="#444" stroke-width="1.0" stroke-linecap="butt"/>
<line x1="212.40" y1="184.00" x2="212.40" y2="189.80" stroke="#444" stroke-width="1.0" stroke-linecap="butt"/>
<text font-size="8.8" font-weight="bold" text-anchor="end" fill="#000" transform="translate(58.00 307.30) rotate(-45)" stroke="#000" stroke-width="0.2" >non del(17p) 4µM</text>
<text font-size="8.8" font-weight="bold" text-anchor="end" fill="#000" transform="translate(79.78 307.30) rotate(-45)" stroke="#000" stroke-width="0.2" >del(17p) 4µM</text>
<text font-size="8.8" font-weight="bold" text-anchor="end" fill="#000" transform="translate(101.56 307.30) rotate(-45)" stroke="#000" stroke-width="0.2" >non del(17p) 6µM</text>
<text font-size="8.8" font-weight="bold" text-anchor="end" fill="#000" transform="translate(123.34 307.30) rotate(-45)" stroke="#000" stroke-width="0.2" >del(17p) 6µM</text>
<text font-size="8.8" font-weight="bold" text-anchor="end" fill="#000" transform="translate(145.12 307.30) rotate(-45)" stroke="#000" stroke-width="0.2" >IgVH Mu 4µM</text>
<text font-size="8.8" font-weight="bold" text-anchor="end" fill="#000" transform="translate(166.90 307.30) rotate(-45)" stroke="#000" stroke-width="0.2" >IgVH UM 4µM</text>
<text font-size="8.8" font-weight="bold" text-anchor="end" fill="#000" transform="translate(188.68 307.30) rotate(-45)" stroke="#000" stroke-width="0.2" >IgVH Mu 6µM</text>
<text font-size="8.8" font-weight="bold" text-anchor="end" fill="#000" transform="translate(210.46 307.30) rotate(-45)" stroke="#000" stroke-width="0.2" >IgVH UM 6µM</text>
<text font-size="8.7" font-weight="normal" text-anchor="start" fill="#000" transform="translate(216.80 310.90) scale(0.9794 1)" stroke="#000" stroke-width="0.15" >p&gt;0.05</text>
<text font-size="18.0" font-weight="bold" text-anchor="start" fill="#000" transform="translate(256.70 179.50)" stroke="#000" stroke-width="0.2" >D</text>
<line x1="307.80" y1="173.70" x2="307.80" y2="295.20" stroke="#000" stroke-width="1.3" stroke-linecap="butt"/>
<line x1="304.20" y1="174.30" x2="307.80" y2="174.30" stroke="#000" stroke-width="1.2" stroke-linecap="butt"/>
<text font-size="9.5" font-weight="bold" text-anchor="end" fill="#000" transform="translate(303.00 177.12) scale(0.8574 1)" stroke="#000" stroke-width="0.2" >100</text>
<line x1="304.20" y1="198.36" x2="307.80" y2="198.36" stroke="#000" stroke-width="1.2" stroke-linecap="butt"/>
<text font-size="9.5" font-weight="bold" text-anchor="end" fill="#000" transform="translate(303.00 201.19) scale(0.8574 1)" stroke="#000" stroke-width="0.2" >80</text>
<line x1="304.20" y1="222.42" x2="307.80" y2="222.42" stroke="#000" stroke-width="1.2" stroke-linecap="butt"/>
<text font-size="9.5" font-weight="bold" text-anchor="end" fill="#000" transform="translate(303.00 225.25) scale(0.8574 1)" stroke="#000" stroke-width="0.2" >60</text>
<line x1="304.20" y1="246.48" x2="307.80" y2="246.48" stroke="#000" stroke-width="1.2" stroke-linecap="butt"/>
<text font-size="9.5" font-weight="bold" text-anchor="end" fill="#000" transform="translate(303.00 249.31) scale(0.8574 1)" stroke="#000" stroke-width="0.2" >40</text>
<line x1="304.20" y1="270.54" x2="307.80" y2="270.54" stroke="#000" stroke-width="1.2" stroke-linecap="butt"/>
<text font-size="9.5" font-weight="bold" text-anchor="end" fill="#000" transform="translate(303.00 273.37) scale(0.8574 1)" stroke="#000" stroke-width="0.2" >20</text>
<line x1="304.20" y1="294.60" x2="307.80" y2="294.60" stroke="#000" stroke-width="1.2" stroke-linecap="butt"/>
<text font-size="9.5" font-weight="bold" text-anchor="end" fill="#000" transform="translate(303.00 297.43) scale(0.8574 1)" stroke="#000" stroke-width="0.2" >0</text>
<line x1="307.80" y1="294.80" x2="488.00" y2="294.80" stroke="#000" stroke-width="1.3" stroke-linecap="butt"/>
<line x1="319.30" y1="294.80" x2="319.30" y2="298.20" stroke="#000" stroke-width="1.2" stroke-linecap="butt"/>
<line x1="341.87" y1="294.80" x2="341.87" y2="298.20" stroke="#000" stroke-width="1.2" stroke-linecap="butt"/>
<line x1="364.44" y1="294.80" x2="364.44" y2="298.20" stroke="#000" stroke-width="1.2" stroke-linecap="butt"/>
<line x1="387.01" y1="294.80" x2="387.01" y2="298.20" stroke="#000" stroke-width="1.2" stroke-linecap="butt"/>
<line x1="409.58" y1="294.80" x2="409.58" y2="298.20" stroke="#000" stroke-width="1.2" stroke-linecap="butt"/>
<line x1="432.15" y1="294.80" x2="432.15" y2="298.20" stroke="#000" stroke-width="1.2" stroke-linecap="butt"/>
<line x1="454.72" y1="294.80" x2="454.72" y2="298.20" stroke="#000" stroke-width="1.2" stroke-linecap="butt"/>
<line x1="477.29" y1="294.80" x2="477.29" y2="298.20" stroke="#000" stroke-width="1.2" stroke-linecap="butt"/>
<text font-size="9.8" font-weight="bold" text-anchor="middle" fill="#000" transform="translate(274.20 237.30) rotate(-90) scale(1.0182 1)" stroke="#000" stroke-width="0.2" >% of PI / Annexin V</text>
<text font-size="9.8" font-weight="bold" text-anchor="middle" fill="#000" transform="translate(283.50 233.50) rotate(-90) scale(1.0236 1)" stroke="#000" stroke-width="0.2" >Normalize to vehicle</text>
<text font-size="5.0" font-weight="bold" text-anchor="middle" fill="#000" transform="translate(268.60 188.40) rotate(-90)" stroke="#000" stroke-width="0.2" >+</text>
<line x1="319.30" y1="183.90" x2="319.30" y2="195.60" stroke="#000" stroke-width="1.9" stroke-linecap="butt"/>
<line x1="319.30" y1="253.50" x2="319.30" y2="269.00" stroke="#000" stroke-width="1.9" stroke-linecap="butt"/>
<line x1="315.40" y1="183.90" x2="323.20" y2="183.90" stroke="#000" stroke-width="1.9" stroke-linecap="butt"/>
<line x1="315.40" y1="269.00" x2="323.20" y2="269.00" stroke="#000" stroke-width="1.9" stroke-linecap="butt"/>
<rect x="312.55" y="195.60" width="13.50" height="57.90" fill="#fff" stroke="#000" stroke-width="1.9"/>
<line x1="312.55" y1="212.70" x2="326.05" y2="212.70" stroke="#000" stroke-width="1.9" stroke-linecap="butt"/>
<line x1="341.87" y1="193.00" x2="341.87" y2="208.50" stroke="#000" stroke-width="1.9" stroke-linecap="butt"/>
<line x1="341.87" y1="244.40" x2="341.87" y2="289.30" stroke="#000" stroke-width="1.9" stroke-linecap="butt"/>
<line x1="337.97" y1="193.00" x2="345.77" y2="193.00" stroke="#000" stroke-width="1.9" stroke-linecap="butt"/>
<line x1="337.97" y1="289.30" x2="345.77" y2="289.30" stroke="#000" stroke-width="1.9" stroke-linecap="butt"/>
<rect x="335.12" y="208.50" width="13.50" height="35.90" fill="#c8c8c8" stroke="#000" stroke-width="1.9"/>
<line x1="335.12" y1="241.30" x2="348.62" y2="241.30" stroke="#000" stroke-width="1.9" stroke-linecap="butt"/>
<line x1="364.44" y1="221.70" x2="364.44" y2="245.00" stroke="#000" stroke-width="1.9" stroke-linecap="butt"/>
<line x1="364.44" y1="288.70" x2="364.44" y2="291.50" stroke="#000" stroke-width="1.9" stroke-linecap="butt"/>
<line x1="360.54" y1="221.70" x2="368.34" y2="221.70" stroke="#000" stroke-width="1.9" stroke-linecap="butt"/>
<line x1="360.54" y1="291.50" x2="368.34" y2="291.50" stroke="#000" stroke-width="1.9" stroke-linecap="butt"/>
<rect x="357.69" y="245.00" width="13.50" height="43.70" fill="#fff" stroke="#000" stroke-width="1.9"/>
<line x1="357.69" y1="267.10" x2="371.19" y2="267.10" stroke="#000" stroke-width="1.9" stroke-linecap="butt"/>
<line x1="387.01" y1="263.60" x2="387.01" y2="269.50" stroke="#000" stroke-width="1.9" stroke-linecap="butt"/>
<line x1="387.01" y1="284.40" x2="387.01" y2="292.60" stroke="#000" stroke-width="1.9" stroke-linecap="butt"/>
<line x1="383.11" y1="263.60" x2="390.91" y2="263.60" stroke="#000" stroke-width="1.9" stroke-linecap="butt"/>
<line x1="383.11" y1="292.60" x2="390.91" y2="292.60" stroke="#000" stroke-width="1.9" stroke-linecap="butt"/>
<rect x="380.26" y="269.50" width="13.50" height="14.90" fill="#c8c8c8" stroke="#000" stroke-width="1.9"/>
<line x1="409.58" y1="190.40" x2="409.58" y2="201.20" stroke="#000" stroke-width="1.9" stroke-linecap="butt"/>
<line x1="409.58" y1="266.90" x2="409.58" y2="289.80" stroke="#000" stroke-width="1.9" stroke-linecap="butt"/>
<line x1="405.68" y1="190.40" x2="413.48" y2="190.40" stroke="#000" stroke-width="1.9" stroke-linecap="butt"/>
<line x1="405.68" y1="289.80" x2="413.48" y2="289.80" stroke="#000" stroke-width="1.9" stroke-linecap="butt"/>
<rect x="402.83" y="201.20" width="13.50" height="65.70" fill="#fff" stroke="#000" stroke-width="1.9"/>
<line x1="402.83" y1="245.40" x2="416.33" y2="245.40" stroke="#000" stroke-width="1.9" stroke-linecap="butt"/>
<line x1="432.15" y1="183.70" x2="432.15" y2="199.80" stroke="#000" stroke-width="1.9" stroke-linecap="butt"/>
<line x1="432.15" y1="242.10" x2="432.15" y2="257.50" stroke="#000" stroke-width="1.9" stroke-linecap="butt"/>
<line x1="428.25" y1="183.70" x2="436.05" y2="183.70" stroke="#000" stroke-width="1.9" stroke-linecap="butt"/>
<line x1="428.25" y1="257.50" x2="436.05" y2="257.50" stroke="#000" stroke-width="1.9" stroke-linecap="butt"/>
<rect x="425.40" y="199.80" width="13.50" height="42.30" fill="#c8c8c8" stroke="#000" stroke-width="1.9"/>
<line x1="425.40" y1="213.00" x2="438.90" y2="213.00" stroke="#000" stroke-width="1.9" stroke-linecap="butt"/>
<line x1="454.72" y1="221.90" x2="454.72" y2="239.40" stroke="#000" stroke-width="1.9" stroke-linecap="butt"/>
<line x1="454.72" y1="289.80" x2="454.72" y2="292.70" stroke="#000" stroke-width="1.9" stroke-linecap="butt"/>
<line x1="450.82" y1="221.90" x2="458.62" y2="221.90" stroke="#000" stroke-width="1.9" stroke-linecap="butt"/>
<line x1="450.82" y1="292.70" x2="458.62" y2="292.70" stroke="#000" stroke-width="1.9" stroke-linecap="butt"/>
<rect x="447.97" y="239.40" width="13.50" height="50.40" fill="#fff" stroke="#000" stroke-width="1.9"/>
<line x1="447.97" y1="284.40" x2="461.47" y2="284.40" stroke="#000" stroke-width="1.9" stroke-linecap="butt"/>
<line x1="477.29" y1="249.40" x2="477.29" y2="262.30" stroke="#000" stroke-width="1.9" stroke-linecap="butt"/>
<line x1="477.29" y1="280.60" x2="477.29" y2="291.90" stroke="#000" stroke-width="1.9" stroke-linecap="butt"/>
<line x1="473.39" y1="249.40" x2="481.19" y2="249.40" stroke="#000" stroke-width="1.9" stroke-linecap="butt"/>
<line x1="473.39" y1="291.90" x2="481.19" y2="291.90" stroke="#000" stroke-width="1.9" stroke-linecap="butt"/>
<rect x="470.54" y="262.30" width="13.50" height="18.30" fill="#c8c8c8" stroke="#000" stroke-width="1.9"/>
<line x1="470.54" y1="269.00" x2="484.04" y2="269.00" stroke="#000" stroke-width="1.9" stroke-linecap="butt"/>
<circle cx="477.50" cy="233.20" r="2.4" fill="#000"/>
<line x1="313.40" y1="173.40" x2="348.50" y2="173.40" stroke="#444" stroke-width="1.0" stroke-linecap="butt"/>
<line x1="313.40" y1="170.50" x2="313.40" y2="176.30" stroke="#444" stroke-width="1.0" stroke-linecap="butt"/>
<line x1="348.50" y1="170.50" x2="348.50" y2="176.30" stroke="#444" stroke-width="1.0" stroke-linecap="butt"/>
<line x1="356.20" y1="181.00" x2="391.30" y2="181.00" stroke="#444" stroke-width="1.0" stroke-linecap="butt"/>
<line x1="356.20" y1="178.10" x2="356.20" y2="183.90" stroke="#444" stroke-width="1.0" stroke-linecap="butt"/>
<line x1="391.30" y1="178.10" x2="391.30" y2="183.90" stroke="#444" stroke-width="1.0" stroke-linecap="butt"/>
<line x1="403.70" y1="174.80" x2="438.70" y2="174.80" stroke="#444" stroke-width="1.0" stroke-linecap="butt"/>
<line x1="403.70" y1="171.90" x2="403.70" y2="177.70" stroke="#444" stroke-width="1.0" stroke-linecap="butt"/>
<line x1="438.70" y1="171.90" x2="438.70" y2="177.70" stroke="#444" stroke-width="1.0" stroke-linecap="butt"/>
<line x1="447.90" y1="181.50" x2="483.10" y2="181.50" stroke="#444" stroke-width="1.0" stroke-linecap="butt"/>
<line x1="447.90" y1="178.60" x2="447.90" y2="184.40" stroke="#444" stroke-width="1.0" stroke-linecap="butt"/>
<line x1="483.10" y1="178.60" x2="483.10" y2="184.40" stroke="#444" stroke-width="1.0" stroke-linecap="butt"/>
<text font-size="9.3" font-weight="bold" text-anchor="end" fill="#000" transform="translate(321.90 307.70) rotate(-45)" stroke="#000" stroke-width="0.2" >non del(11q) 4µM</text>
<text font-size="9.3" font-weight="bold" text-anchor="end" fill="#000" transform="translate(344.47 307.70) rotate(-45)" stroke="#000" stroke-width="0.2" >del(11q) 4µM</text>
<text font-size="9.3" font-weight="bold" text-anchor="end" fill="#000" transform="translate(367.04 307.70) rotate(-45)" stroke="#000" stroke-width="0.2" >non del(11q) 6µM</text>
<text font-size="9.3" font-weight="bold" text-anchor="end" fill="#000" transform="translate(389.61 307.70) rotate(-45)" stroke="#000" stroke-width="0.2" >del(11q) 6µM</text>
<text font-size="9.3" font-weight="bold" text-anchor="end" fill="#000" transform="translate(412.18 307.70) rotate(-45)" stroke="#000" stroke-width="0.2" >non del(13q) 4µM</text>
<text font-size="9.3" font-weight="bold" text-anchor="end" fill="#000" transform="translate(434.75 307.70) rotate(-45)" stroke="#000" stroke-width="0.2" >del(13q) 4µM</text>
<text font-size="9.3" font-weight="bold" text-anchor="end" fill="#000" transform="translate(457.32 307.70) rotate(-45)" stroke="#000" stroke-width="0.2" >non del(13q) 6µM</text>
<text font-size="9.3" font-weight="bold" text-anchor="end" fill="#000" transform="translate(479.89 307.70) rotate(-45)" stroke="#000" stroke-width="0.2" >del(13q) 6µM</text>
<text font-size="9.0" font-weight="normal" text-anchor="start" fill="#000" transform="translate(487.80 310.90) scale(0.9648 1)" stroke="#000" stroke-width="0.15" >p&gt;0.05</text>
<text font-size="17.4" font-weight="bold" text-anchor="start" fill="#000" transform="translate(0.10 399.80)" stroke="#000" stroke-width="0.2" >E</text>
<line x1="46.00" y1="394.80" x2="46.00" y2="524.30" stroke="#000" stroke-width="1.3" stroke-linecap="butt"/>
<line x1="42.40" y1="395.40" x2="46.00" y2="395.40" stroke="#000" stroke-width="1.2" stroke-linecap="butt"/>
<text font-size="9.3" font-weight="bold" text-anchor="end" fill="#000" transform="translate(40.60 398.15) scale(0.9222 1)" stroke="#000" stroke-width="0.2" >120</text>
<line x1="42.40" y1="416.78" x2="46.00" y2="416.78" stroke="#000" stroke-width="1.2" stroke-linecap="butt"/>
<text font-size="9.3" font-weight="bold" text-anchor="end" fill="#000" transform="translate(40.60 419.54) scale(0.9222 1)" stroke="#000" stroke-width="0.2" >100</text>
<line x1="42.40" y1="438.17" x2="46.00" y2="438.17" stroke="#000" stroke-width="1.2" stroke-linecap="butt"/>
<text font-size="9.3" font-weight="bold" text-anchor="end" fill="#000" transform="translate(40.60 440.92) scale(0.9222 1)" stroke="#000" stroke-width="0.2" >80</text>
<line x1="42.40" y1="459.55" x2="46.00" y2="459.55" stroke="#000" stroke-width="1.2" stroke-linecap="butt"/>
<text font-size="9.3" font-weight="bold" text-anchor="end" fill="#000" transform="translate(40.60 462.31) scale(0.9222 1)" stroke="#000" stroke-width="0.2" >60</text>
<line x1="42.40" y1="480.93" x2="46.00" y2="480.93" stroke="#000" stroke-width="1.2" stroke-linecap="butt"/>
<text font-size="9.3" font-weight="bold" text-anchor="end" fill="#000" transform="translate(40.60 483.69) scale(0.9222 1)" stroke="#000" stroke-width="0.2" >40</text>
<line x1="42.40" y1="502.32" x2="46.00" y2="502.32" stroke="#000" stroke-width="1.2" stroke-linecap="butt"/>
<text font-size="9.3" font-weight="bold" text-anchor="end" fill="#000" transform="translate(40.60 505.07) scale(0.9222 1)" stroke="#000" stroke-width="0.2" >20</text>
<line x1="42.40" y1="523.70" x2="46.00" y2="523.70" stroke="#000" stroke-width="1.2" stroke-linecap="butt"/>
<text font-size="9.3" font-weight="bold" text-anchor="end" fill="#000" transform="translate(40.60 526.46) scale(0.9222 1)" stroke="#000" stroke-width="0.2" >0</text>
<line x1="46.00" y1="523.70" x2="239.50" y2="523.70" stroke="#000" stroke-width="1.3" stroke-linecap="butt"/>
<line x1="46.00" y1="471.00" x2="240.00" y2="471.00" stroke="#a0a0a0" stroke-width="1.0" stroke-linecap="butt" stroke-dasharray="1.6 2.3"/>
<line x1="62.50" y1="523.70" x2="62.50" y2="526.90" stroke="#000" stroke-width="1.2" stroke-linecap="butt"/>
<text font-size="9.5" font-weight="bold" text-anchor="middle" fill="#000" transform="translate(62.50 536.70)" stroke="#000" stroke-width="0.2" >C</text>
<line x1="94.58" y1="523.70" x2="94.58" y2="526.90" stroke="#000" stroke-width="1.2" stroke-linecap="butt"/>
<text font-size="9.5" font-weight="bold" text-anchor="middle" fill="#000" transform="translate(94.58 536.70)" stroke="#000" stroke-width="0.2" >1</text>
<line x1="126.66" y1="523.70" x2="126.66" y2="526.90" stroke="#000" stroke-width="1.2" stroke-linecap="butt"/>
<text font-size="9.5" font-weight="bold" text-anchor="middle" fill="#000" transform="translate(126.66 536.70)" stroke="#000" stroke-width="0.2" >2</text>
<line x1="158.74" y1="523.70" x2="158.74" y2="526.90" stroke="#000" stroke-width="1.2" stroke-linecap="butt"/>
<text font-size="9.5" font-weight="bold" text-anchor="middle" fill="#000" transform="translate(158.74 536.70)" stroke="#000" stroke-width="0.2" >3</text>
<line x1="190.82" y1="523.70" x2="190.82" y2="526.90" stroke="#000" stroke-width="1.2" stroke-linecap="butt"/>
<text font-size="9.5" font-weight="bold" text-anchor="middle" fill="#000" transform="translate(190.82 536.70)" stroke="#000" stroke-width="0.2" >4</text>
<line x1="222.90" y1="523.70" x2="222.90" y2="526.90" stroke="#000" stroke-width="1.2" stroke-linecap="butt"/>
<text font-size="9.5" font-weight="bold" text-anchor="middle" fill="#000" transform="translate(222.90 536.70)" stroke="#000" stroke-width="0.2" >5</text>
<text font-size="10.0" font-weight="bold" text-anchor="middle" fill="#000" transform="translate(143.30 552.90) scale(0.9959 1)" stroke="#000" stroke-width="0.2" >T315 µM</text>
<text font-size="10.5" font-weight="bold" text-anchor="middle" fill="#000" transform="translate(10.00 461.20) rotate(-90) scale(1.0380 1)" stroke="#000" stroke-width="0.2" >% of PI / Annexin V</text>
<text font-size="10.5" font-weight="bold" text-anchor="middle" fill="#000" transform="translate(20.00 458.40) rotate(-90) scale(1.0115 1)" stroke="#000" stroke-width="0.2" >Normalize to vehicle</text>
<text font-size="5.5" font-weight="bold" text-anchor="middle" fill="#000" transform="translate(4.60 409.50) rotate(-90)" stroke="#000" stroke-width="0.2" >+</text>
<rect x="52.50" y="416.90" width="7.80" height="106.80" fill="#fff" stroke="#000" stroke-width="2.0"/>
<rect x="63.60" y="415.90" width="9.70" height="107.80" fill="#000"/>
<line x1="88.48" y1="420.50" x2="88.48" y2="422.80" stroke="#000" stroke-width="1.5" stroke-linecap="butt"/>
<line x1="86.08" y1="420.50" x2="90.88" y2="420.50" stroke="#000" stroke-width="1.5" stroke-linecap="butt"/>
<rect x="84.58" y="423.80" width="7.80" height="99.90" fill="#fff" stroke="#000" stroke-width="2.0"/>
<line x1="100.53" y1="430.90" x2="100.53" y2="434.90" stroke="#000" stroke-width="1.5" stroke-linecap="butt"/>
<line x1="98.13" y1="430.90" x2="102.93" y2="430.90" stroke="#000" stroke-width="1.5" stroke-linecap="butt"/>
<rect x="95.68" y="434.90" width="9.70" height="88.80" fill="#000"/>
<line x1="120.56" y1="434.60" x2="120.56" y2="441.60" stroke="#000" stroke-width="1.5" stroke-linecap="butt"/>
<line x1="118.16" y1="434.60" x2="122.96" y2="434.60" stroke="#000" stroke-width="1.5" stroke-linecap="butt"/>
<rect x="116.66" y="442.60" width="7.80" height="81.10" fill="#fff" stroke="#000" stroke-width="2.0"/>
<line x1="132.61" y1="445.00" x2="132.61" y2="458.50" stroke="#000" stroke-width="1.5" stroke-linecap="butt"/>
<line x1="130.21" y1="445.00" x2="135.01" y2="445.00" stroke="#000" stroke-width="1.5" stroke-linecap="butt"/>
<rect x="127.76" y="458.50" width="9.70" height="65.20" fill="#000"/>
<line x1="152.64" y1="487.10" x2="152.64" y2="494.90" stroke="#000" stroke-width="1.5" stroke-linecap="butt"/>
<line x1="150.24" y1="487.10" x2="155.04" y2="487.10" stroke="#000" stroke-width="1.5" stroke-linecap="butt"/>
<rect x="148.74" y="495.90" width="7.80" height="27.80" fill="#fff" stroke="#000" stroke-width="2.0"/>
<line x1="164.69" y1="467.60" x2="164.69" y2="479.00" stroke="#000" stroke-width="1.5" stroke-linecap="butt"/>
<line x1="162.29" y1="467.60" x2="167.09" y2="467.60" stroke="#000" stroke-width="1.5" stroke-linecap="butt"/>
<rect x="159.84" y="479.00" width="9.70" height="44.70" fill="#000"/>
<line x1="184.72" y1="510.50" x2="184.72" y2="512.90" stroke="#000" stroke-width="1.5" stroke-linecap="butt"/>
<line x1="182.32" y1="510.50" x2="187.12" y2="510.50" stroke="#000" stroke-width="1.5" stroke-linecap="butt"/>
<rect x="180.82" y="513.90" width="7.80" height="9.80" fill="#fff" stroke="#000" stroke-width="2.0"/>
<line x1="196.77" y1="493.40" x2="196.77" y2="499.40" stroke="#000" stroke-width="1.5" stroke-linecap="butt"/>
<line x1="194.37" y1="493.40" x2="199.17" y2="493.40" stroke="#000" stroke-width="1.5" stroke-linecap="butt"/>
<rect x="191.92" y="499.40" width="9.70" height="24.30" fill="#000"/>
<line x1="216.80" y1="518.00" x2="216.80" y2="519.50" stroke="#000" stroke-width="1.5" stroke-linecap="butt"/>
<line x1="214.40" y1="518.00" x2="219.20" y2="518.00" stroke="#000" stroke-width="1.5" stroke-linecap="butt"/>
<rect x="212.90" y="520.50" width="7.80" height="3.20" fill="#fff" stroke="#000" stroke-width="2.0"/>
<line x1="228.85" y1="507.50" x2="228.85" y2="511.40" stroke="#000" stroke-width="1.5" stroke-linecap="butt"/>
<line x1="226.45" y1="507.50" x2="231.25" y2="507.50" stroke="#000" stroke-width="1.5" stroke-linecap="butt"/>
<rect x="224.00" y="511.40" width="9.70" height="12.30" fill="#000"/>
<rect x="171.95" y="391.55" width="13.80" height="6.50" fill="#fff" stroke="#000" stroke-width="1.5"/>
<rect x="171.2" y="405.8" width="15.3" height="8.1" fill="#000"/>
<text font-size="10.2" font-weight="normal" text-anchor="start" fill="#000" transform="translate(193.10 397.90) scale(1.0092 1)" stroke="#000" stroke-width="0.15" >Mec-1</text>
<text font-size="10.0" font-weight="normal" text-anchor="start" fill="#000" transform="translate(193.10 412.50) scale(1.0151 1)" stroke="#000" stroke-width="0.15" >OSU-CLL</text>
<text font-size="17.6" font-weight="bold" text-anchor="start" fill="#000" transform="translate(256.70 399.70)" stroke="#000" stroke-width="0.2" >F</text>
<line x1="303.20" y1="393.10" x2="303.20" y2="522.80" stroke="#000" stroke-width="1.3" stroke-linecap="butt"/>
<line x1="299.60" y1="393.70" x2="303.20" y2="393.70" stroke="#000" stroke-width="1.2" stroke-linecap="butt"/>
<text font-size="9.3" font-weight="bold" text-anchor="end" fill="#000" transform="translate(298.00 396.45) scale(0.9280 1)" stroke="#000" stroke-width="0.2" >140</text>
<line x1="299.60" y1="412.06" x2="303.20" y2="412.06" stroke="#000" stroke-width="1.2" stroke-linecap="butt"/>
<text font-size="9.3" font-weight="bold" text-anchor="end" fill="#000" transform="translate(298.00 414.81) scale(0.9280 1)" stroke="#000" stroke-width="0.2" >120</text>
<line x1="299.60" y1="430.41" x2="303.20" y2="430.41" stroke="#000" stroke-width="1.2" stroke-linecap="butt"/>
<text font-size="9.3" font-weight="bold" text-anchor="end" fill="#000" transform="translate(298.00 433.17) scale(0.9280 1)" stroke="#000" stroke-width="0.2" >100</text>
<line x1="299.60" y1="448.77" x2="303.20" y2="448.77" stroke="#000" stroke-width="1.2" stroke-linecap="butt"/>
<text font-size="9.3" font-weight="bold" text-anchor="end" fill="#000" transform="translate(298.00 451.53) scale(0.9280 1)" stroke="#000" stroke-width="0.2" >80</text>
<line x1="299.60" y1="467.13" x2="303.20" y2="467.13" stroke="#000" stroke-width="1.2" stroke-linecap="butt"/>
<text font-size="9.3" font-weight="bold" text-anchor="end" fill="#000" transform="translate(298.00 469.88) scale(0.9280 1)" stroke="#000" stroke-width="0.2" >60</text>
<line x1="299.60" y1="485.49" x2="303.20" y2="485.49" stroke="#000" stroke-width="1.2" stroke-linecap="butt"/>
<text font-size="9.3" font-weight="bold" text-anchor="end" fill="#000" transform="translate(298.00 488.24) scale(0.9280 1)" stroke="#000" stroke-width="0.2" >40</text>
<line x1="299.60" y1="503.84" x2="303.20" y2="503.84" stroke="#000" stroke-width="1.2" stroke-linecap="butt"/>
<text font-size="9.3" font-weight="bold" text-anchor="end" fill="#000" transform="translate(298.00 506.60) scale(0.9280 1)" stroke="#000" stroke-width="0.2" >20</text>
<line x1="299.60" y1="522.20" x2="303.20" y2="522.20" stroke="#000" stroke-width="1.2" stroke-linecap="butt"/>
<text font-size="9.3" font-weight="bold" text-anchor="end" fill="#000" transform="translate(298.00 524.96) scale(0.9280 1)" stroke="#000" stroke-width="0.2" >0</text>
<line x1="303.20" y1="522.20" x2="500.00" y2="522.20" stroke="#000" stroke-width="1.3" stroke-linecap="butt"/>
<line x1="316.00" y1="522.20" x2="316.00" y2="525.60" stroke="#000" stroke-width="1.2" stroke-linecap="butt"/>
<line x1="340.40" y1="522.20" x2="340.40" y2="525.60" stroke="#000" stroke-width="1.2" stroke-linecap="butt"/>
<line x1="364.80" y1="522.20" x2="364.80" y2="525.60" stroke="#000" stroke-width="1.2" stroke-linecap="butt"/>
<line x1="389.20" y1="522.20" x2="389.20" y2="525.60" stroke="#000" stroke-width="1.2" stroke-linecap="butt"/>
<line x1="413.60" y1="522.20" x2="413.60" y2="525.60" stroke="#000" stroke-width="1.2" stroke-linecap="butt"/>
<line x1="438.00" y1="522.20" x2="438.00" y2="525.60" stroke="#000" stroke-width="1.2" stroke-linecap="butt"/>
<line x1="462.40" y1="522.20" x2="462.40" y2="525.60" stroke="#000" stroke-width="1.2" stroke-linecap="butt"/>
<line x1="486.80" y1="522.20" x2="486.80" y2="525.60" stroke="#000" stroke-width="1.2" stroke-linecap="butt"/>
<text font-size="10.5" font-weight="bold" text-anchor="middle" fill="#000" transform="translate(266.70 459.70) rotate(-90) scale(1.0348 1)" stroke="#000" stroke-width="0.2" >% of PI / Annexin V</text>
<text font-size="10.5" font-weight="bold" text-anchor="middle" fill="#000" transform="translate(277.00 456.50) rotate(-90) scale(1.0144 1)" stroke="#000" stroke-width="0.2" >Normalize to vehicle</text>
<text font-size="5.5" font-weight="bold" text-anchor="middle" fill="#000" transform="translate(261.40 408.20) rotate(-90)" stroke="#000" stroke-width="0.2" >+</text>
<text font-size="9.6" font-weight="bold" text-anchor="end" fill="#000" transform="translate(318.60 536.20) rotate(-45)" stroke="#000" stroke-width="0.2" >CLL Vehicle</text>
<text font-size="9.6" font-weight="bold" text-anchor="end" fill="#000" transform="translate(343.00 536.20) rotate(-45)" stroke="#000" stroke-width="0.2" >IR Vehicle</text>
<text font-size="9.6" font-weight="bold" text-anchor="end" fill="#000" transform="translate(367.40 536.20) rotate(-45)" stroke="#000" stroke-width="0.2" >CLL OSU-T315 4µM</text>
<text font-size="9.6" font-weight="bold" text-anchor="end" fill="#000" transform="translate(391.80 536.20) rotate(-45)" stroke="#000" stroke-width="0.2" >IR OSU-T315 4µM</text>
<text font-size="9.6" font-weight="bold" text-anchor="end" fill="#000" transform="translate(416.20 536.20) rotate(-45)" stroke="#000" stroke-width="0.2" >CLL OSU-T315 6µM</text>
<text font-size="9.6" font-weight="bold" text-anchor="end" fill="#000" transform="translate(440.60 536.20) rotate(-45)" stroke="#000" stroke-width="0.2" >IR OSU-T315 6µM</text>
<text font-size="9.6" font-weight="bold" text-anchor="end" fill="#000" transform="translate(465.00 536.20) rotate(-45)" stroke="#000" stroke-width="0.2" >IR CAL-101</text>
<text font-size="9.6" font-weight="bold" text-anchor="end" fill="#000" transform="translate(489.40 536.20) rotate(-45)" stroke="#000" stroke-width="0.2" >IR Ibrutinib</text>
<path d="M307.3 430.6 L311 427.8 L320.6 427.8 L324.3 430.6 L320.6 433.4 L311 433.4 Z" fill="#000"/>
<line x1="306.50" y1="430.60" x2="325.00" y2="430.60" stroke="#000" stroke-width="1.0" stroke-linecap="butt"/>
<path d="M333 428.6 L334.5 427.9 L346.5 427.9 L348 428.6 L347 430.6 L348 432.8 L346.5 433.5 L334.5 433.5 L333 432.8 L334 430.6 Z" fill="#000"/>
<line x1="332.30" y1="430.60" x2="348.70" y2="430.60" stroke="#000" stroke-width="1.0" stroke-linecap="butt"/>
<path d="M365.10 434.60L368.20 440.30L362.00 440.30Z" fill="#000"/>
<path d="M361.00 441.70L364.10 447.40L357.90 447.40Z" fill="#000"/>
<path d="M367.40 441.30L370.50 447.00L364.30 447.00Z" fill="#000"/>
<path d="M369.60 442.30L372.70 448.00L366.50 448.00Z" fill="#000"/>
<path d="M365.10 445.70L368.20 451.40L362.00 451.40Z" fill="#000"/>
<path d="M363.30 453.70L366.40 459.40L360.20 459.40Z" fill="#000"/>
<path d="M367.00 453.70L370.10 459.40L363.90 459.40Z" fill="#000"/>
<path d="M361.00 456.70L364.10 462.40L357.90 462.40Z" fill="#000"/>
<path d="M369.00 456.70L372.10 462.40L365.90 462.40Z" fill="#000"/>
<path d="M365.00 467.90L368.10 473.60L361.90 473.60Z" fill="#000"/>
<path d="M369.20 478.40L372.30 484.10L366.10 484.10Z" fill="#000"/>
<path d="M360.80 479.90L363.90 485.60L357.70 485.60Z" fill="#000"/>
<path d="M365.30 481.30L368.40 487.00L362.20 487.00Z" fill="#000"/>
<path d="M360.80 483.70L363.90 489.40L357.70 489.40Z" fill="#000"/>
<path d="M369.20 487.20L372.30 492.90L366.10 492.90Z" fill="#000"/>
<path d="M365.30 491.40L368.40 497.10L362.20 497.10Z" fill="#000"/>
<path d="M360.80 496.90L363.90 502.60L357.70 502.60Z" fill="#000"/>
<path d="M365.30 499.60L368.40 505.30L362.20 505.30Z" fill="#000"/>
<path d="M365.30 515.90L368.40 521.60L362.20 521.60Z" fill="#000"/>
<line x1="356.40" y1="469.80" x2="373.30" y2="469.80" stroke="#000" stroke-width="1.3" stroke-linecap="butt"/>
<path d="M389.30 445.00L392.10 439.60L386.50 439.60Z" fill="#000"/>
<path d="M389.30 483.60L392.10 478.20L386.50 478.20Z" fill="#000"/>
<path d="M389.30 498.30L392.10 492.90L386.50 492.90Z" fill="#000"/>
<line x1="381.00" y1="473.10" x2="398.00" y2="473.10" stroke="#000" stroke-width="1.3" stroke-linecap="butt"/>
<path d="M409.80 463.30L413.00 466.50L409.80 469.70L406.60 466.50Z" fill="#000" stroke="#000" stroke-width="0"/>
<path d="M414.60 463.30L417.80 466.50L414.60 469.70L411.40 466.50Z" fill="#000" stroke="#000" stroke-width="0"/>
<path d="M414.10 472.50L417.30 475.70L414.10 478.90L410.90 475.70Z" fill="#000" stroke="#000" stroke-width="0"/>
<path d="M409.80 484.40L413.00 487.60L409.80 490.80L406.60 487.60Z" fill="#000" stroke="#000" stroke-width="0"/>
<path d="M414.60 488.20L417.80 491.40L414.60 494.60L411.40 491.40Z" fill="#000" stroke="#000" stroke-width="0"/>
<path d="M412.00 486.30L415.20 489.50L412.00 492.70L408.80 489.50Z" fill="#000" stroke="#000" stroke-width="0"/>
<path d="M410.00 494.30L413.20 497.50L410.00 500.70L406.80 497.50Z" fill="#000" stroke="#000" stroke-width="0"/>
<path d="M414.50 492.30L417.70 495.50L414.50 498.70L411.30 495.50Z" fill="#000" stroke="#000" stroke-width="0"/>
<path d="M414.00 497.30L417.20 500.50L414.00 503.70L410.80 500.50Z" fill="#000" stroke="#000" stroke-width="0"/>
<path d="M418.50 499.30L421.70 502.50L418.50 505.70L415.30 502.50Z" fill="#000" stroke="#000" stroke-width="0"/>
<path d="M416.00 495.80L419.20 499.00L416.00 502.20L412.80 499.00Z" fill="#000" stroke="#000" stroke-width="0"/>
<path d="M410.00 508.80L413.20 512.00L410.00 515.20L406.80 512.00Z" fill="#000" stroke="#000" stroke-width="0"/>
<path d="M414.00 508.30L417.20 511.50L414.00 514.70L410.80 511.50Z" fill="#000" stroke="#000" stroke-width="0"/>
<path d="M412.00 512.30L415.20 515.50L412.00 518.70L408.80 515.50Z" fill="#000" stroke="#000" stroke-width="0"/>
<path d="M410.00 515.80L413.20 519.00L410.00 522.20L406.80 519.00Z" fill="#000" stroke="#000" stroke-width="0"/>
<path d="M414.00 515.80L417.20 519.00L414.00 522.20L410.80 519.00Z" fill="#000" stroke="#000" stroke-width="0"/>
<path d="M418.00 516.30L421.20 519.50L418.00 522.70L414.80 519.50Z" fill="#000" stroke="#000" stroke-width="0"/>
<path d="M416.00 512.80L419.20 516.00L416.00 519.20L412.80 516.00Z" fill="#000" stroke="#000" stroke-width="0"/>
<line x1="405.80" y1="501.80" x2="419.50" y2="501.80" stroke="#000" stroke-width="1.3" stroke-linecap="butt"/>
<circle cx="438.40" cy="501.40" r="2.45" fill="#fff" stroke="#000" stroke-width="1.5"/>
<circle cx="438.40" cy="511.30" r="2.45" fill="#fff" stroke="#000" stroke-width="1.5"/>
<circle cx="438.40" cy="520.30" r="2.45" fill="#fff" stroke="#000" stroke-width="1.5"/>
<line x1="430.30" y1="510.70" x2="446.90" y2="510.70" stroke="#000" stroke-width="1.3" stroke-linecap="butt"/>
<rect x="460.70" y="436.10" width="4.8" height="4.8" fill="#fff" stroke="#000" stroke-width="1.6"/>
<rect x="465.40" y="454.70" width="4.8" height="4.8" fill="#fff" stroke="#000" stroke-width="1.6"/>
<rect x="460.70" y="459.40" width="4.8" height="4.8" fill="#fff" stroke="#000" stroke-width="1.6"/>
<line x1="454.70" y1="452.20" x2="471.00" y2="452.20" stroke="#000" stroke-width="1.3" stroke-linecap="butt"/>
<path d="M487.30 403.20L490.55 397.50L484.05 397.50Z" fill="#fff" stroke="#000" stroke-width="1.5"/>
<path d="M487.30 439.90L490.55 434.20L484.05 434.20Z" fill="#fff" stroke="#000" stroke-width="1.5"/>
<path d="M487.30 452.10L490.55 446.40L484.05 446.40Z" fill="#fff" stroke="#000" stroke-width="1.5"/>
<line x1="479.80" y1="428.00" x2="495.50" y2="428.00" stroke="#000" stroke-width="1.3" stroke-linecap="butt"/>
<path d="M366.9 426.2 L366.9 422.2 L394.6 422.2 L394.6 426.2" fill="none" stroke="#000" stroke-width="1.1"/>
<path d="M412 426.2 L412 422.2 L438.9 422.2 L438.9 426.2" fill="none" stroke="#000" stroke-width="1.1"/>
<text font-size="5.4" font-weight="bold" text-anchor="middle" fill="#000" transform="translate(380.00 418.90) scale(1.1816 1)" stroke="#000" stroke-width="0.2" >P=0.84</text>
<text font-size="5.4" font-weight="bold" text-anchor="middle" fill="#000" transform="translate(424.30 418.90) scale(1.1584 1)" stroke="#000" stroke-width="0.2" >P=0.40</text>
</svg></body></html>
